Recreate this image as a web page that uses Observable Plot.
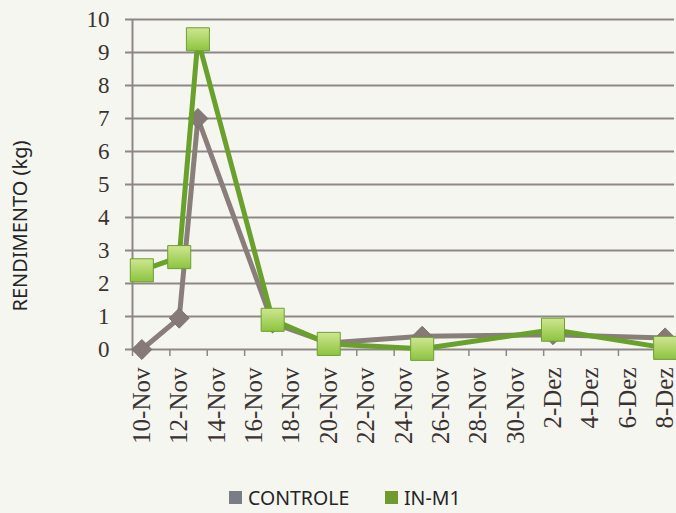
<!DOCTYPE html>
<html>
<head>
<meta charset="utf-8">
<script src="https://cdn.jsdelivr.net/npm/d3@7"></script>
<script src="https://cdn.jsdelivr.net/npm/@observablehq/plot@0.6"></script>
<style>
  html, body { margin: 0; padding: 0; background: #f5f6f0; width: 676px; height: 513px; overflow: hidden; }
  #chart { position: relative; width: 676px; height: 476px; }
  #ytitle { position: absolute; left: 19px; top: 226px; transform: translate(-50%, -50%) rotate(-90deg); font-family: "Noto Sans", sans-serif; font-size: 20px; color: #252525; white-space: nowrap; }
  #legend { position: relative; height: 37px; font-family: "Noto Sans", sans-serif; font-size: 19.5px; color: #252525; }
  .item { position: absolute; top: 8px; display: flex; align-items: center; white-space: nowrap; }
  .sw { display: inline-block; width: 13px; height: 13px; margin-right: 6px; }
</style>
</head>
<body>
<svg width="0" height="0" style="position:absolute">
  <defs>
    <linearGradient id="greenGrad" x1="0" y1="0" x2="0" y2="1">
      <stop offset="0" stop-color="#cfe691"/>
      <stop offset="1" stop-color="#8cc43e"/>
    </linearGradient>
  </defs>
</svg>
<div id="chart"><div id="ytitle"></div></div>
<div id="legend">
  <div class="item" style="left:229px"><span class="sw" style="background:#7b7d86"></span><span id="lg0"></span></div>
  <div class="item" style="left:385px"><span class="sw" style="background:#6f9a2c"></span><span id="lg1"></span></div>
</div>
<script>
// ---- data ----
const seriesNames = ["CONTROLE", "IN-M1"];
const dates = ["2013-11-10", "2013-11-12", "2013-11-13", "2013-11-17", "2013-11-20", "2013-11-25", "2013-12-02", "2013-12-08"];
const controle = [0, 0.95, 7.0, 0.8, 0.2, 0.4, 0.45, 0.35];
const inM1 = [2.4, 2.8, 9.4, 0.9, 0.17, 0.02, 0.6, 0.05];
const xTickDates = ["2013-11-10", "2013-11-12", "2013-11-14", "2013-11-16", "2013-11-18", "2013-11-20", "2013-11-22", "2013-11-24", "2013-11-26", "2013-11-28", "2013-11-30", "2013-12-02", "2013-12-04", "2013-12-06", "2013-12-08"];
const xTickLabels = ["10-Nov", "12-Nov", "14-Nov", "16-Nov", "18-Nov", "20-Nov", "22-Nov", "24-Nov", "26-Nov", "28-Nov", "30-Nov", "2-Dez", "4-Dez", "6-Dez", "8-Dez"];
const yTicks = [0, 1, 2, 3, 4, 5, 6, 7, 8, 9, 10];
const yLabel = "RENDIMENTO (kg)";

document.getElementById("ytitle").textContent = yLabel;
document.getElementById("lg0").textContent = seriesNames[0];
document.getElementById("lg1").textContent = seriesNames[1];

// ---- derived tables ----
const HALF_DAY = 12 * 3600 * 1000;
const parse = s => new Date(s + "T00:00:00Z");
const rowsC = dates.map((d, i) => ({date: parse(d), value: controle[i]}));
const rowsG = dates.map((d, i) => ({date: parse(d), value: inM1[i]}));
const tickDates = xTickDates.map(parse);
const labelMap = new Map(tickDates.map((d, i) => [d.getTime(), xTickLabels[i]]));
const boundaries = tickDates.map(d => new Date(d.getTime() - HALF_DAY));
const xDomain = [new Date(parse(xTickDates[0]).getTime() - HALF_DAY), new Date(parse(xTickDates[xTickDates.length - 1]).getTime() + HALF_DAY)];

const gridColor = "#8f8787";
const chart = Plot.plot({
  width: 676,
  height: 476,
  marginLeft: 132,
  marginRight: 2,
  marginTop: 19,
  marginBottom: 127,
  style: {background: "transparent", fontFamily: "'Liberation Serif', serif", overflow: "visible"},
  x: {type: "utc", domain: xDomain},
  y: {domain: [0, 10]},
  marks: [
    Plot.gridY(yTicks, {stroke: gridColor, strokeOpacity: 1, strokeWidth: 2}),
    Plot.axisY(yTicks, {tickSize: 7, tickPadding: 16, fontSize: 23, fill: "#3a3232", stroke: gridColor, strokeWidth: 2, label: null}),
    Plot.ruleX([xDomain[0]], {stroke: gridColor, strokeWidth: 2, y1: 0, y2: 10}),
    Plot.axisX(boundaries, {tickSize: 7, tickFormat: () => "", stroke: gridColor, strokeWidth: 1.5, label: null}),
    Plot.axisX(tickDates, {tickSize: 0, tickRotate: -90, tickPadding: 18, fontSize: 25, fill: "#3a3232", tickFormat: d => labelMap.get(d.getTime()), label: null}),
    Plot.line(rowsC, {x: "date", y: "value", stroke: "#8a7e7b", strokeWidth: 5, strokeLinejoin: "round"}),
    Plot.dot(rowsC, {x: "date", y: "value", symbol: "diamond2", r: 9, fill: "#857a77", stroke: "#7a6f6c", strokeWidth: 1}),
    Plot.line(rowsG, {x: "date", y: "value", stroke: "#6aa02c", strokeWidth: 5, strokeLinejoin: "round"}),
    Plot.dot(rowsG, {x: "date", y: "value", symbol: "square", r: 13, fill: "url(#greenGrad)", stroke: "#6f9e34", strokeWidth: 1})
  ]
});
document.getElementById("chart").appendChild(chart);
</script>
</body>
</html>
